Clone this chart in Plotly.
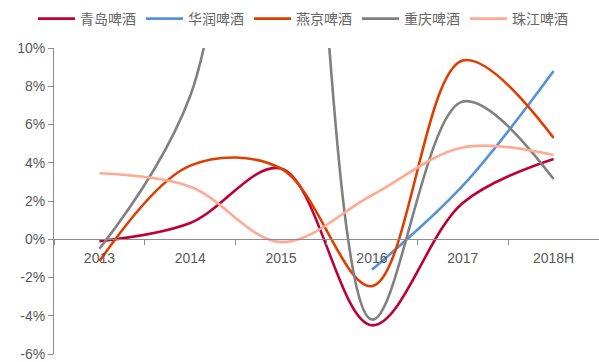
import plotly.graph_objects as go

categories = ["2013", "2014", "2015", "2016", "2017", "2018H"]
qingdao = [-0.1, 0.85, 3.7, -4.5, 1.9, 4.2]
huarun = [None, None, None, -1.6, 2.8, 8.8]
yanjing = [-1.15, 3.85, 3.7, -2.45, 9.35, 5.3]
chongqing = [-0.5, 7.5, 34.0, -4.2, 7.2, 3.15]
zhujiang = [3.45, 2.75, -0.15, 2.3, 4.8, 4.4]

names = ["青岛啤酒", "华润啤酒", "燕京啤酒", "重庆啤酒", "珠江啤酒"]
series = [qingdao, huarun, yanjing, chongqing, zhujiang]
colors = ["#C00034", "#5591DA", "#E03E00", "#808080", "#FFAA94"]

fig = go.Figure()
for n, s, c in zip(names, series, colors):
    fig.add_trace(go.Scatter(
        x=categories, y=s, name=n, mode="lines",
        line=dict(color=c, width=2.6, shape="spline", smoothing=1.0),
        connectgaps=False,
    ))

fig.update_layout(
    width=599, height=362,
    margin=dict(l=54, r=0, t=48, b=5),
    paper_bgcolor="white", plot_bgcolor="white",
    font=dict(family="Liberation Sans, Arial", size=14, color="#595959"),
    showlegend=True,
    legend=dict(
        orientation="h", xref="container", yref="container",
        x=33 / 599, y=1 - 19 / 362, xanchor="left", yanchor="middle",
        font=dict(family="Noto Sans CJK SC", size=14, color="#666666"),
        itemwidth=37, tracegroupgap=0, bgcolor="rgba(0,0,0,0)",
    ),
    xaxis=dict(
        type="category", range=[-0.5, 5.5],
        anchor="free", position=0.375,
        showline=True, linecolor="#8C8C8C", linewidth=1,
        ticks="outside", ticklen=5, tickcolor="#8C8C8C", tickson="boundaries",
        showgrid=False, zeroline=False, ticklabelstandoff=6,
        tickfont=dict(size=14, color="#595959"),
    ),
    yaxis=dict(
        range=[-6, 10], tickvals=[-6, -4, -2, 0, 2, 4, 6, 8, 10],
        ticktext=["-6%", "-4%", "-2%", "0%", "2%", "4%", "6%", "8%", "10%"],
        ticklabeloverflow="allow",
        showline=True, linecolor="#8C8C8C", linewidth=1,
        ticks="outside", ticklen=5, tickcolor="#8C8C8C",
        showgrid=False, zeroline=False,
        tickfont=dict(size=14, color="#595959"),
    ),
)

fig.write_html("out.html")
